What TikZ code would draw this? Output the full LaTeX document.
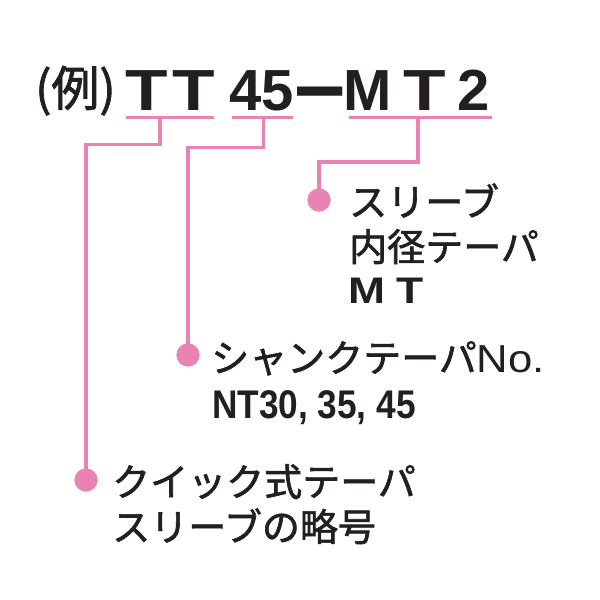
\documentclass[tikz,border=0pt]{standalone}
\usepackage{fontspec}
\usepackage{graphicx}
\newfontfamily\jp{Noto Sans CJK JP}[FakeBold=1.6]
\newfontfamily\lat{Liberation Sans}
\newfontfamily\cond{Liberation Sans}[FakeStretch=0.88]
\definecolor{lpink}{HTML}{E883B3}
\definecolor{ink}{HTML}{231F20}
\tikzset{
  pinkline/.style={draw=lpink, line width=3.6pt, line join=miter},
  bullet/.style={circle, fill=lpink, inner sep=0pt, minimum size=23pt},
  title/.style={inner sep=0pt, anchor=base, text=ink, font=\lat\bfseries\fontsize{58}{60}\selectfont},
  jtext/.style={inner sep=0pt, anchor=base west, text=ink, font=\jp\fontsize{38}{44}\selectfont},
  mtext/.style={inner sep=0pt, anchor=base west, text=ink, font=\lat\bfseries\fontsize{37}{44}\selectfont},
}
\begin{document}
\begin{tikzpicture}[x=1pt, y=-1pt]
\useasboundingbox (0,0) rectangle (600,600);
\fill[white] (0,0) rectangle (600,600);
% title
\node[inner sep=0pt, anchor=base west, text=ink, font=\jp\fontsize{48}{50}\selectfont] (rei) at (35,106) {(例)};
\node[title] (t1) at (147,110) {\scalebox{1.2}[1]{T}};
\node[title] (t2) at (194,110) {\scalebox{1.2}[1]{T}};
\node[title] (n45) at (262,110) {45};
\node[title, anchor=base west] (dash) at (297,116) {\scalebox{0.78}[1.6]{—}};
\node[title] (m) at (368,110) {M};
\node[title] (t3) at (425,110) {\scalebox{1.2}[1]{T}};
\node[title] (two) at (474,110) {2};
% underline coordinates
\coordinate (u1a) at (126,117.5); \coordinate (u1b) at (214,117.5); \coordinate (u1m) at (160,117.5);
\coordinate (u2a) at (232,117.5); \coordinate (u2b) at (293,117.5); \coordinate (u2m) at (263.5,117.5);
\coordinate (u3a) at (349,117.5); \coordinate (u3b) at (492,117.5); \coordinate (u3m) at (418,117.5);
\coordinate (c1) at (86,144.5);
\coordinate (c2) at (188,147.5);
\coordinate (c3) at (319,162);
% bullets
\node[bullet] (b1) at (86,480) {};
\node[bullet] (b2) at (188,355) {};
\node[bullet] (b3) at (319,200) {};
% lines
\draw[pinkline] (u1a) -- (u1b);
\draw[pinkline] (u2a) -- (u2b);
\draw[pinkline] (u3a) -- (u3b);
\draw[pinkline] (u1m) -- (u1m |- c1) -- (c1) -- (b1.center);
\draw[pinkline] (u2m) -- (u2m |- c2) -- (c2) -- (b2.center);
\draw[pinkline] (u3m) -- (u3m |- c3) -- (c3) -- (b3.center);
\node[bullet] at (b1) {};
\node[bullet] at (b2) {};
\node[bullet] at (b3) {};
% labels
\node[jtext] (l1a) at (349,216) {スリーブ};
\node[jtext] (l1b) at (349,261) {内径テーパ};
\node[mtext] (l1m) at (348,303) {\scalebox{1.2}[1]{M}};
\node[mtext] (l1t) at (396,303) {\scalebox{1.2}[1]{T}};
\node[jtext] (l2a) at (211,372) {シャンクテーパ{\lat\fontsize{39}{44}\selectfont\scalebox{1.12}[1]{No.}}};
\node[jtext, font=\cond\bfseries\fontsize{40}{44}\selectfont] (l2b) at (212,418) {NT30, 35, 45};
\node[jtext] (l3a) at (112,496) {クイック式テーパ};
\node[jtext] (l3b) at (112,541) {スリーブの略号};
\end{tikzpicture}
\end{document}
